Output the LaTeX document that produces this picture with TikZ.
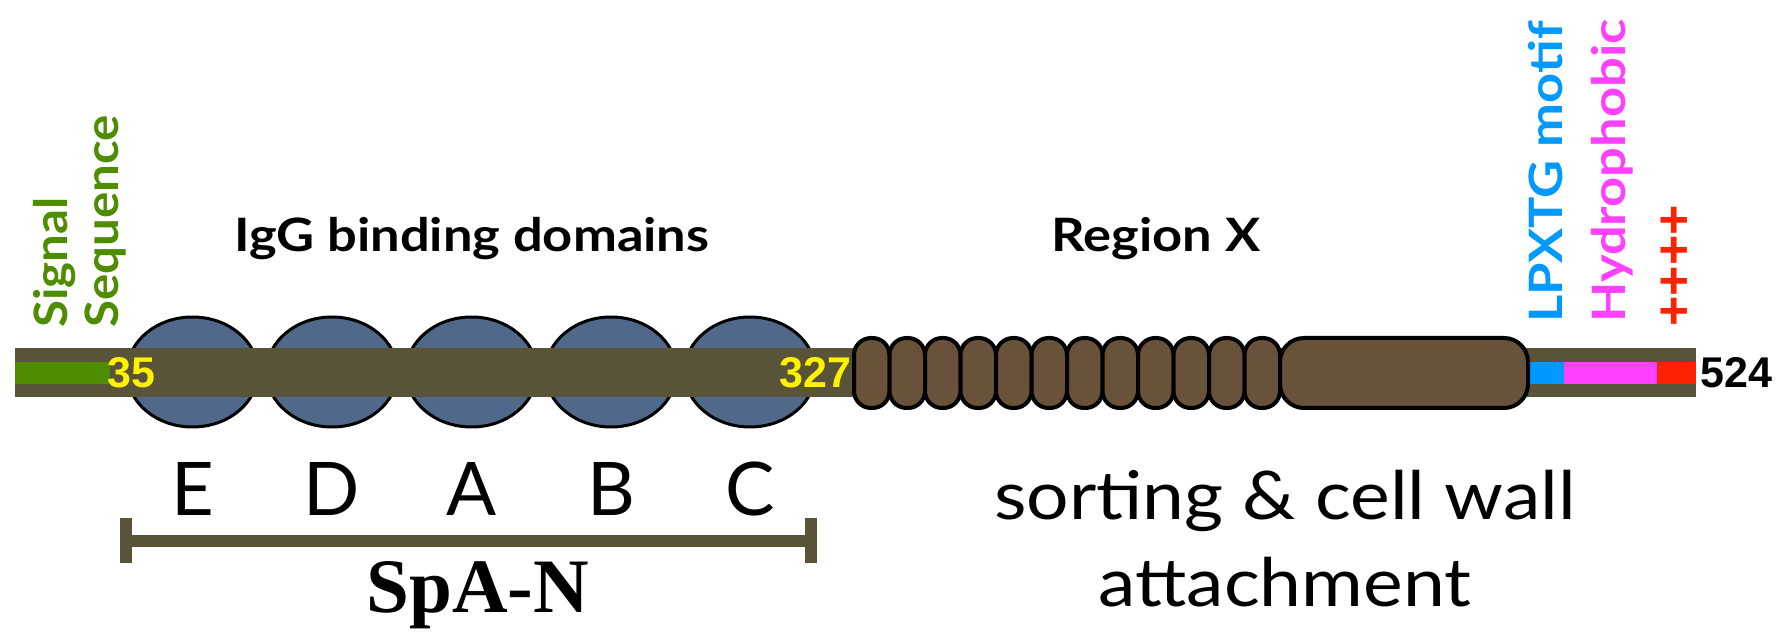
\documentclass[tikz,border=0pt]{standalone}
\usepackage{fontspec}
\setmainfont{Lato}
\newfontfamily\gillbold[FakeStretch=1.14]{Lato Bold}
\newfontfamily\gillside[FakeStretch=1.07]{Lato Bold}
\newfontfamily\gillreg[FakeStretch=1.12]{Lato}
\newfontfamily\numfont{Liberation Sans}
\newfontfamily\spafont{Liberation Serif}
\usetikzlibrary{shapes.geometric,positioning}

\definecolor{barcol}{RGB}{89,83,58}
\definecolor{domcol}{RGB}{80,104,138}
\definecolor{repcol}{RGB}{104,82,58}
\definecolor{sigcol}{RGB}{78,140,0}
\definecolor{lpxcol}{RGB}{0,153,255}
\definecolor{hydcol}{RGB}{255,64,255}
\definecolor{poscol}{RGB}{255,34,0}

\tikzset{
  igdomain/.style={ellipse, draw=black, line width=1.5pt, fill=domcol,
    minimum width=65.5pt, minimum height=55pt, inner sep=0pt},
  repunit/.style={rectangle, rounded corners=8.5pt, draw=black, line width=2pt,
    fill=repcol, minimum width=17.75pt, minimum height=35pt, inner sep=0pt},
  tailunit/.style={repunit, rounded corners=12pt, minimum width=124pt},
  toplab/.style={font=\gillbold\fontsize{23}{28}\selectfont, inner sep=0pt},
  sidelab/.style={toplab, rotate=90, anchor=base west},
  numlab/.style={font=\numfont\fontsize{21.5}{24}\selectfont\bfseries, inner sep=0pt},
  letlab/.style={font=\fontsize{37}{40}\selectfont, inner sep=0pt, anchor=base},
  funclab/.style={font=\gillreg\fontsize{33.5}{40}\selectfont, inner sep=0pt, anchor=base},
}

\begin{document}
\begin{tikzpicture}[x=0.5pt,y=-0.5pt]
\useasboundingbox (0,0) rectangle (1779,641);
\fill[white] (0,0) rectangle (1779,641);

% IgG binding domains (behind the chain)
\foreach \n/\x in {E/192.5,D/332,A/471.5,B/611,C/750}
  \node[igdomain] (dom\n) at (\x,372) {};

% the chain
\fill[barcol] (15,348) rectangle (1696,397);
\fill[sigcol] (15,362) rectangle (110,384);
\fill[lpxcol] (1528,362) rectangle (1564,384);
\fill[hydcol] (1564,362) rectangle (1657,384);
\fill[poscol] (1657,362) rectangle (1696,384);

% region X repeats
\foreach \i in {0,...,11}
  \node[repunit] (rep\i) at ({871.75+35.5*\i},373) {};
\node[tailunit] (tail) at (1404,373) {};

% residue numbers
\node[numlab, text=yellow, anchor=base west] (n35) at (107,388) {35};
\node[numlab, text=yellow, anchor=base east] (n327) at (852,388) {327};
\node[numlab, anchor=base west] (n524) at (1700,388) {524};

% labels above
\node[toplab, anchor=base] (igg) at (472,252) {IgG binding domains};
\node[toplab, anchor=base] (regx) at (1156,252) {Region X};
\node[sidelab, text=sigcol, font=\gillside\fontsize{23}{28}\selectfont] (sig) at (68,328) {Signal};
\node[sidelab, text=sigcol, font=\gillside\fontsize{23}{28}\selectfont] (seq) at (118,328) {Sequence};
\node[sidelab, text=lpxcol] (lpxtg) at (1562,323) {LPXTG motif};
\node[sidelab, text=hydcol] (hydro) at (1625,323) {Hydrophobic};
\node[text=poscol, rotate=90, inner sep=0pt, font=\numfont\fontsize{26}{28}\selectfont\bfseries] (plus) at (1676,266) {++++};

% domain letters
\foreach \n in {E,D,A,B,C}
  \node[letlab] (let\n) at (dom\n |- 0,516) {\n};

% SpA-N bracket
\coordinate (brl) at (126,541);
\coordinate (brr) at (810.5,541);
\draw[barcol, line width=6pt] (brl) -- (brr);
\draw[barcol, line width=6pt] ([yshift=11.5pt]brl) -- ([yshift=-11pt]brl);
\draw[barcol, line width=6pt] ([yshift=11.5pt]brr) -- ([yshift=-11pt]brr);
\node[font=\spafont\fontsize{38.5}{42}\selectfont\bfseries, inner sep=0pt, anchor=base] (span) at (478,613) {SpA-N};

% region X function
\node[funclab] (sort) at (1285,520) {sorting \& cell wall};
\node[funclab] (attach) at (1285,607) {attachment};
\end{tikzpicture}
\end{document}
